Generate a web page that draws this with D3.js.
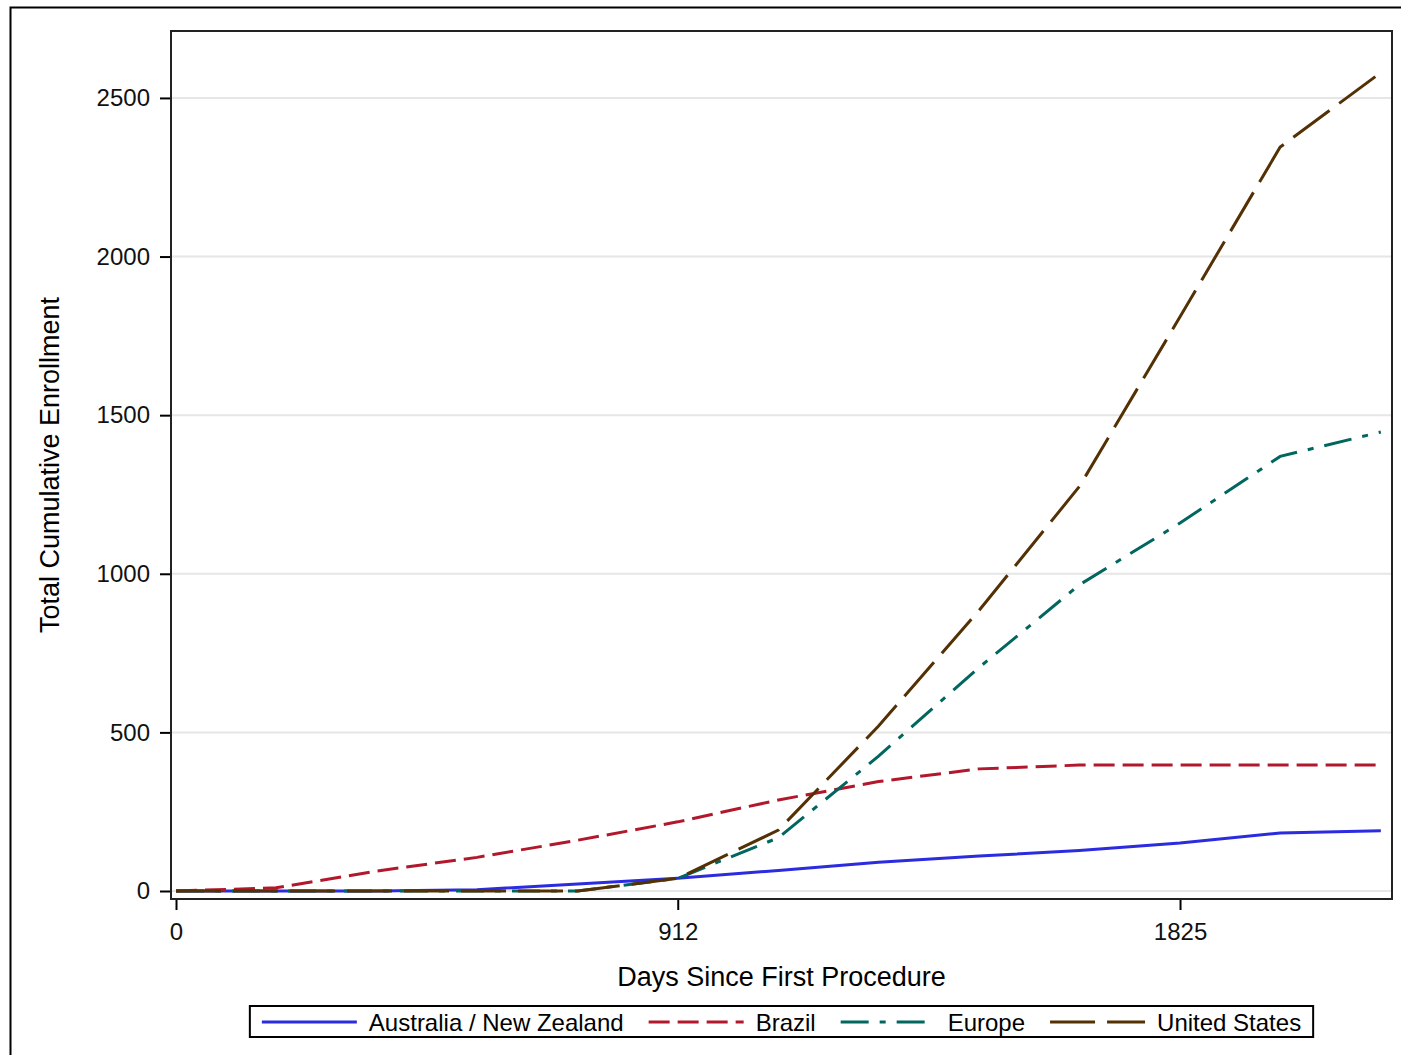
<!DOCTYPE html>
<html>
<head>
<meta charset="utf-8">
<script src="https://cdn.jsdelivr.net/npm/d3@7"></script>
<style>
  body { margin: 0; background: #fff; }
  svg { display: block; font-family: "Liberation Sans", Arial, sans-serif; }
</style>
</head>
<body>
<svg id="chart" width="1401" height="1055"></svg>
<script>
// days since first procedure (half-year steps)
const days = [0, 182, 365, 547, 730, 912, 1095, 1277, 1460, 1642, 1825, 2007, 2190]

const anzValues = [0, 0, 0, 4, 22, 40, 65, 91, 110, 128, 151, 183, 190]
const brazilValues = [0, 10, 63, 106, 160, 218, 287, 345, 385, 397, 397, 397, 397]
const europeValues = [0, 0, 0, 0, 0, 40, 168, 425, 705, 965, 1160, 1370, 1447]
const usValues = [0, 0, 0, 0, 0, 40, 192, 520, 885, 1275, 1810, 2345, 2580]

const seriesNames = ['Australia / New Zealand', 'Brazil', 'Europe', 'United States']
const xTicks = [0, 912, 1825]
const yTicks = [0, 500, 1000, 1500, 2000, 2500]

const series = [
  { name: seriesNames[0], values: anzValues, color: '#2b2be0', dash: null },
  { name: seriesNames[1], values: brazilValues, color: '#b2182b', dash: '21 8' },
  { name: seriesNames[2], values: europeValues, color: '#01665e', dash: '28 11 6 11' },
  { name: seriesNames[3], values: usValues, color: '#543005', dash: '45 12' }
]

const plot = { left: 171, top: 31, right: 1392, bottom: 899 }

const xScale = d3.scaleLinear().domain([-9.1, 2210.3]).range([plot.left, plot.right])
const yScale = d3.scaleLinear().domain([-25.2, 2711]).range([plot.bottom, plot.top])

const svg = d3.select('#chart')

// outer frame (runs off the right and bottom edges)
svg.append('rect')
  .attr('x', 10.5).attr('y', 7.5)
  .attr('width', 1500).attr('height', 1500)
  .attr('fill', 'none').attr('stroke', '#000').attr('stroke-width', 2)

// grid
svg.append('g').selectAll('line')
  .data(yTicks)
  .enter().append('line')
    .attr('x1', plot.left).attr('x2', plot.right)
    .attr('y1', d => yScale(d)).attr('y2', d => yScale(d))
    .attr('stroke', '#e6e6e6').attr('stroke-width', 2)

// axes
const yAxis = d3.axisLeft(yScale).tickValues(yTicks).tickFormat(d3.format('d'))
  .tickSize(11).tickSizeOuter(0).tickPadding(10)
const xAxis = d3.axisBottom(xScale).tickValues(xTicks).tickFormat(d3.format('d'))
  .tickSize(10).tickSizeOuter(0).tickPadding(13)

const gy = svg.append('g')
  .attr('transform', `translate(${plot.left}, 0)`)
  .call(yAxis)
const gx = svg.append('g')
  .attr('transform', `translate(0, ${plot.bottom + 1})`)
  .call(xAxis)

;[gx, gy].forEach(g => {
  g.select('.domain').remove()
  g.selectAll('.tick line').attr('stroke', '#000').attr('stroke-width', 2)
  g.selectAll('.tick text')
    .attr('fill', '#111')
    .style('font-size', '24px')
    .style('font-family', '"Liberation Sans", Arial, sans-serif')
})

// lines
const line = d3.line()
  .x((d, i) => xScale(days[i]))
  .y(d => yScale(d))

svg.append('g').selectAll('path')
  .data(series)
  .enter().append('path')
    .attr('d', d => line(d.values))
    .attr('fill', 'none')
    .attr('stroke', d => d.color)
    .attr('stroke-width', 3)
    .attr('stroke-dasharray', d => d.dash)

// plot frame
svg.append('rect')
  .attr('x', plot.left).attr('y', plot.top)
  .attr('width', plot.right - plot.left).attr('height', plot.bottom - plot.top)
  .attr('fill', 'none').attr('stroke', '#222').attr('stroke-width', 2)

// axis titles
svg.append('text')
  .attr('x', (plot.left + plot.right) / 2)
  .attr('y', 986)
  .attr('text-anchor', 'middle')
  .style('font-size', '27px')
  .attr('fill', '#000')
  .text('Days Since First Procedure')

svg.append('text')
  .attr('transform', `translate(59, ${(plot.top + plot.bottom) / 2}) rotate(-90)`)
  .attr('text-anchor', 'middle')
  .style('font-size', '27px')
  .attr('fill', '#000')
  .text('Total Cumulative Enrollment')

// legend
const legend = svg.append('g')
const sampleW = 95
const items = legend.selectAll('g')
  .data(series)
  .enter().append('g')

items.append('line')
  .attr('x1', 0).attr('x2', sampleW)
  .attr('y1', 0).attr('y2', 0)
  .attr('stroke', d => d.color)
  .attr('stroke-width', 3)
  .attr('stroke-dasharray', d => d.dash)

items.append('text')
  .attr('x', sampleW + 12)
  .attr('y', 9)
  .style('font-size', '24px')
  .attr('fill', '#000')
  .text(d => d.name)

const itemGap = 25
let cursor = 0
items.each(function () {
  const w = sampleW + 12 + d3.select(this).select('text').node().getComputedTextLength()
  d3.select(this).attr('transform', `translate(${cursor}, 0)`)
  cursor += w + itemGap
})
const legendW = cursor - itemGap + 24
const legendX = (plot.left + plot.right) / 2 - legendW / 2
legend.attr('transform', `translate(${legendX + 12}, 1022)`)

legend.insert('rect', ':first-child')
  .attr('x', -12).attr('y', -16)
  .attr('width', legendW).attr('height', 31)
  .attr('fill', '#fff').attr('stroke', '#000').attr('stroke-width', 2)
</script>
</body>
</html>
